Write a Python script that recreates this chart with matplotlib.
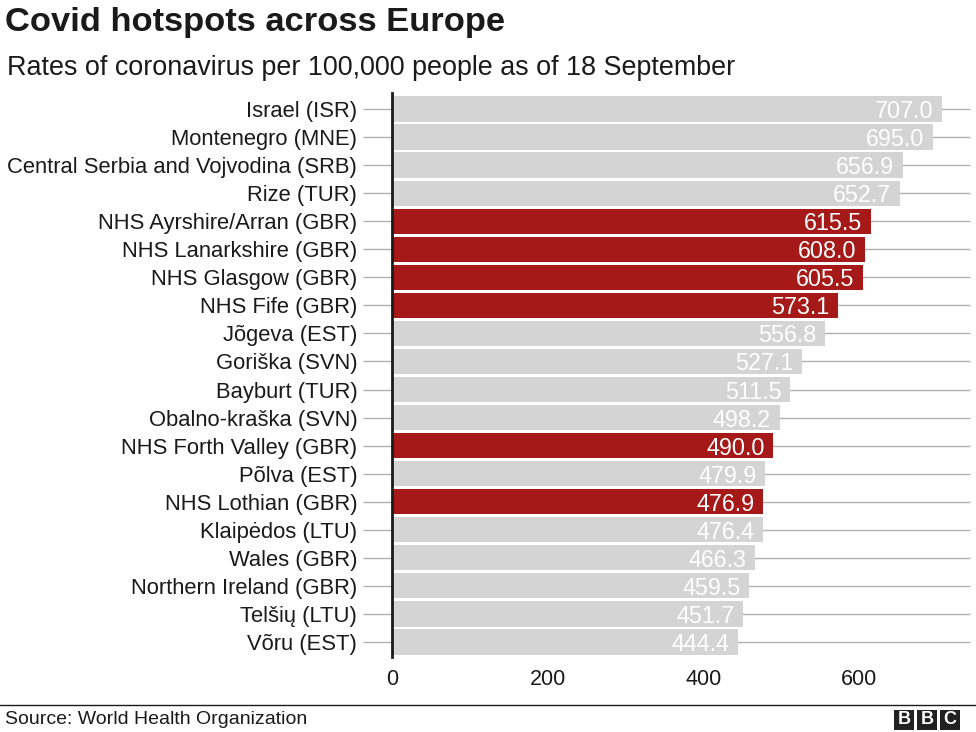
import matplotlib
matplotlib.use("Agg")
import matplotlib.pyplot as plt
from matplotlib.patches import Rectangle
from matplotlib.lines import Line2D

plt.rcParams['font.family'] = ['Liberation Sans', 'DejaVu Sans']

regions = ["Israel (ISR)", "Montenegro (MNE)", "Central Serbia and Vojvodina (SRB)", "Rize (TUR)",
           "NHS Ayrshire/Arran (GBR)", "NHS Lanarkshire (GBR)", "NHS Glasgow (GBR)", "NHS Fife (GBR)",
           "Jõgeva (EST)", "Goriška (SVN)", "Bayburt (TUR)", "Obalno-kraška (SVN)",
           "NHS Forth Valley (GBR)", "Põlva (EST)", "NHS Lothian (GBR)", "Klaipėdos (LTU)",
           "Wales (GBR)", "Northern Ireland (GBR)", "Telšių (LTU)", "Võru (EST)"]
rates = [707.0, 695.0, 656.9, 652.7, 615.5, 608.0, 605.5, 573.1, 556.8, 527.1, 511.5, 498.2,
         490.0, 479.9, 476.9, 476.4, 466.3, 459.5, 451.7, 444.4]
highlight = [False, False, False, False, True, True, True, True, False, False, False, False,
             True, False, True, False, False, False, False, False]
x_ticks = [0, 200, 400, 600]

GREY = "#d4d4d4"
RED = "#a51a18"
TEXT = "#1a1a1a"

fig = plt.figure(figsize=(9.76, 7.32), dpi=100)
ax = fig.add_axes([392/976, 1 - 657.4/732, (970 - 392)/976, (657.4 - 93)/732])

ys = list(range(len(regions)))
colors = [RED if h else GREY for h in highlight]

ax.hlines(ys, -37.5, 743, color="#b0b0b0", lw=1, zorder=0, clip_on=False)
ax.barh(ys, rates, height=0.9, color=colors, zorder=2)
for y, v in zip(ys, rates):
    ax.text(v - 11, y, f"{v:.1f}", color="white", fontsize=16.8, ha="right", va="center_baseline", zorder=3)

ax.set_xlim(0, 743)
ax.set_ylim(19.55, -0.57)
ax.set_yticks(ys)
ax.set_yticklabels(regions, fontsize=15.8, color=TEXT)
ax.set_xticks(x_ticks)
ax.set_xticklabels([str(t) for t in x_ticks], fontsize=15.5, color=TEXT)
ax.tick_params(axis="y", length=0, pad=25)
ax.tick_params(axis="x", length=0, pad=8)
for s in ["top", "right", "bottom"]:
    ax.spines[s].set_visible(False)
ax.spines["left"].set_linewidth(2)
ax.spines["left"].set_color(TEXT)
ax.spines["left"].set_zorder(4)

fig.text(5/976, 1 - 22/732, "Covid hotspots across Europe", fontsize=24.8, fontweight="bold",
         ha="left", va="center", color=TEXT)
fig.text(7/976, 1 - 68/732, "Rates of coronavirus per 100,000 people as of 18 September", fontsize=19.35,
         ha="left", va="center", color=TEXT)

fig.add_artist(Line2D([0, 1], [1 - 705/732, 1 - 705/732], transform=fig.transFigure, color=TEXT, lw=1))
fig.text(5/976, 1 - 720/732, "Source: World Health Organization", fontsize=14, ha="left", va="center",
         color=TEXT)

for i, letter in enumerate("BBC"):
    x0 = 894 + i * 23
    fig.add_artist(Rectangle((x0/976, 1 - 730/732), 20/976, 20/732, transform=fig.transFigure,
                             facecolor="#222222", edgecolor="none"))
    fig.text((x0 + 10)/976, 1 - 720/732, letter, fontsize=13, fontweight="bold", color="white",
             ha="center", va="center")

fig.savefig("out.png", dpi=100)
